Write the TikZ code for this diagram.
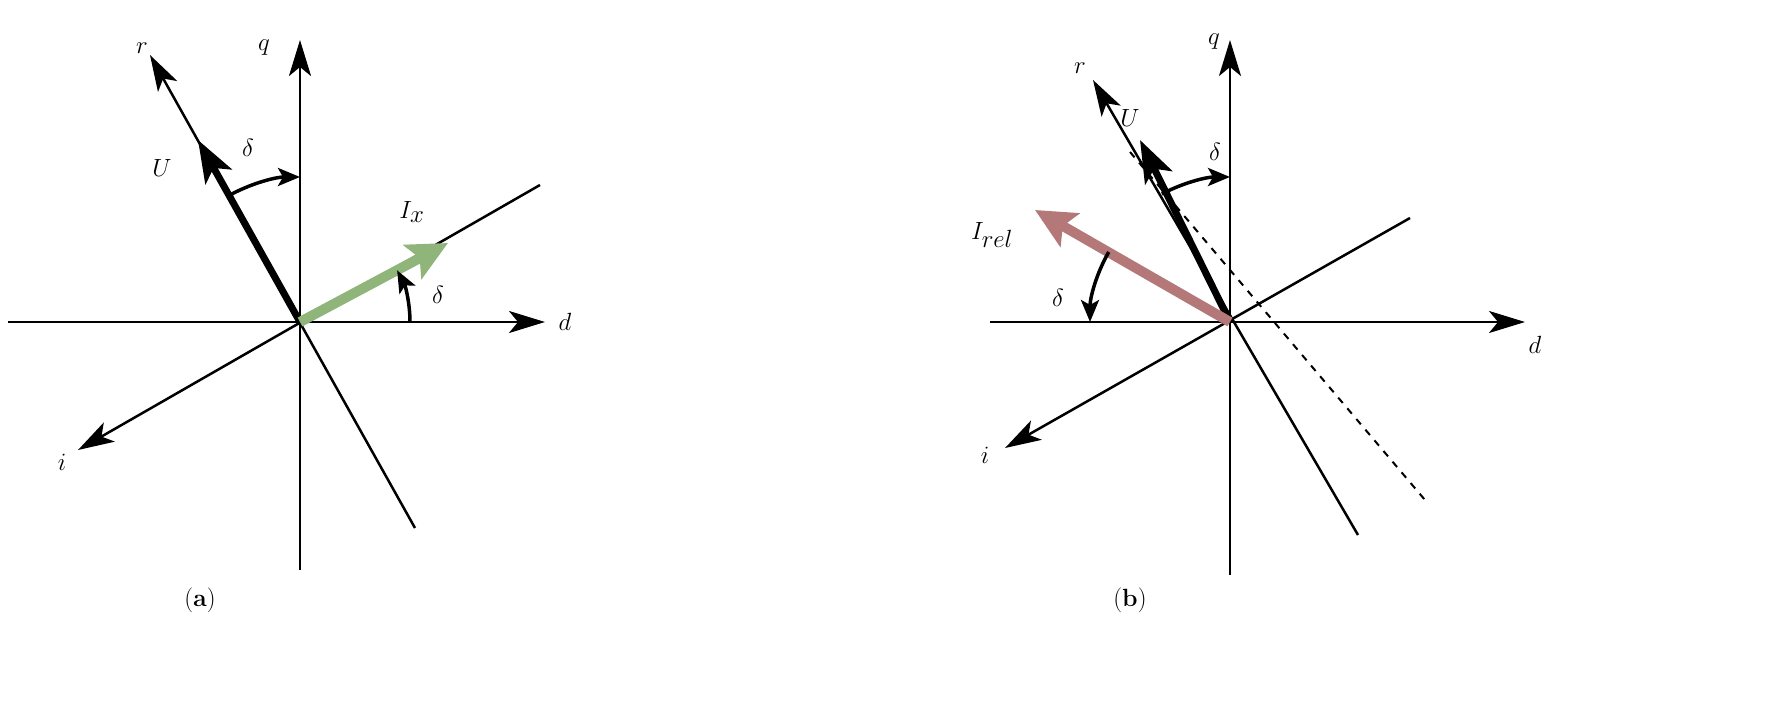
\documentclass[tikz,border=0pt]{standalone}
\usetikzlibrary{arrows.meta}
\definecolor{ixgreen}{RGB}{143,181,122}
\definecolor{irelred}{RGB}{181,120,120}
\begin{document}
\begin{tikzpicture}[x=1pt,y=-1pt,
  ax/.style={line width=2.5pt,-{Stealth[length=36pt,width=22pt,inset=9pt]}},
  thk/.style={line width=7pt,-{Stealth[length=42pt,width=30pt,inset=10pt]}},
  vec/.style={line width=10pt,-{Stealth[length=40pt,width=38pt,inset=8pt]}},
  ang/.style={line width=3.5pt,-{Stealth[length=22pt,width=18pt,inset=5pt]}},
  lab/.style={font=\fontsize{44}{44}\selectfont}]
\fill[white] (0,0) rectangle (1790,722);
\useasboundingbox (0,0) rectangle (1790,722);
% panel a
\coordinate (O) at (300,322);
\draw[ax] (300,570) -- (300,40);
\draw[ax] (8,322) -- (545,322);
\draw[ax] (540,185) -- (78,450);
\draw[ax] (415,528) -- (150,55);
\draw[thk] (O) -- (198,140);
\draw[vec,ixgreen] (O) -- (448,243);
\draw[ang] (O) ++(-118:145) arc[start angle=-118,end angle=-90,radius=145];
\draw[ang] (O) ++(0:110) arc[start angle=0,end angle=-28,radius=110];
\node[lab] (ra) at (142,48) {$r$};
\node[lab] (qa) at (264,48) {$q$};
\node[lab] (Ua) at (162,168) {$U$};
\node[lab] (d1) at (248,148) {$\delta$};
\node[lab] (Ix) at (412,212) {$I_x$};
\node[lab] (d2) at (438,295) {$\delta$};
\node[lab] (da) at (565,322) {$d$};
\node[lab] (ia) at (62,462) {$i$};
\node[lab] (pa) at (200,600) {$(\mathbf{a})$};
% panel b
\coordinate (P) at (1230,322);
\draw[ax] (1230,575) -- (1230,40);
\draw[ax] (990,322) -- (1525,322);
\draw[ax] (1410,218) -- (1005,448);
\draw[ax] (1358,535) -- (1093,80);
\draw[line width=2pt,dash pattern=on 7pt off 7pt] (1130,152) -- (1425,500);
\draw[thk] (P) -- (1140,140);
\draw[vec,irelred] (P) -- (1035,210);
\draw[ang] (P) ++(-118:145) arc[start angle=-118,end angle=-90,radius=145];
\draw[ang] (P) ++(-150:140) arc[start angle=-150,end angle=-180,radius=140];
\node[lab] (rb2) at (1080,68) {$r$};
\node[lab] (qb2) at (1214,42) {$q$};
\node[lab] (Ub) at (1130,118) {$U$};
\node[lab] (d3) at (1215,152) {$\delta$};
\node[lab] (Ir) at (992,235) {$I_{rel}$};
\node[lab] (d4) at (1058,298) {$\delta$};
\node[lab] (db) at (1535,345) {$d$};
\node[lab] (ib) at (985,455) {$i$};
\node[lab] (pb) at (1130,600) {$(\mathbf{b})$};
\end{tikzpicture}
\end{document}
